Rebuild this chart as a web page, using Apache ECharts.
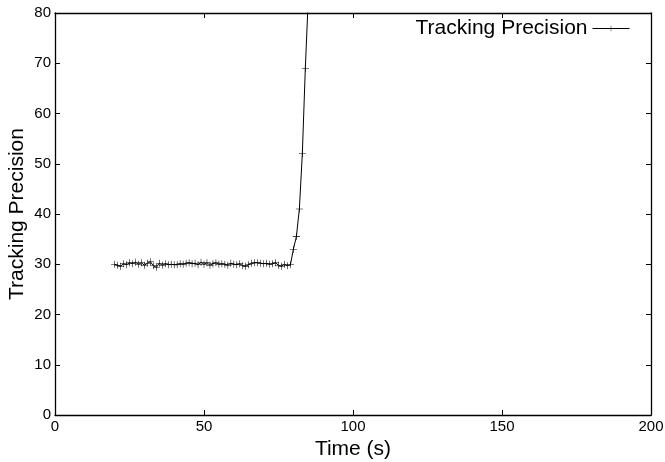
<!DOCTYPE html>
<html>
<head>
<meta charset="utf-8">
<script src="https://cdn.jsdelivr.net/npm/echarts@6/dist/echarts.min.js"></script>
<style>html,body{margin:0;padding:0;background:#fff}#c{width:665px;height:462px}</style>
</head>
<body>
<div id="c"></div>
<script>
var times = [20,21,22,23,24,25,26,27,28,29,30,31,32,33,34,35,36,37,38,39,
             40,41,42,43,44,45,46,47,48,49,50,51,52,53,54,55,56,57,58,59,
             60,61,62,63,64,65,66,67,68,69,70,71,72,73,74,75,76,77,78,79,
             80,81,82,83,84,85];
var precision = [30.0,29.8,29.6,30.1,29.9,30.3,30.1,30.4,30.0,30.3,29.8,30.2,30.5,29.7,29.4,30.2,29.8,30.1,29.9,30.0,
                 29.9,29.9,30.1,30.0,30.2,30.3,30.1,30.2,29.9,30.4,30.0,30.3,29.8,30.1,30.3,30.0,30.1,30.0,29.8,30.2,
                 30.0,29.9,30.1,29.7,29.6,29.9,30.2,30.3,30.3,30.2,30.1,30.2,30.0,30.1,30.3,29.8,29.6,30.0,29.7,29.9,
                 33.0,35.5,41.0,52.0,69.0,83.0];
var xTicks = [0,50,100,150,200];
var yTicks = [0,10,20,30,40,50,60,70,80];
var seriesName = 'Tracking Precision';

var FONT = '"Liberation Sans", Arial, sans-serif';
var plusSym = 'path://M0,4.6H10V5.4H0Z M4.6,0H5.4V10H4.6Z';
var data = times.map(function(t,i){return [t, precision[i]];});
var chart = echarts.init(document.getElementById('c'));
var tickCommon = {show:true, inside:true, length:5, lineStyle:{color:'#000', width:1}};
var lineCommon = {show:true, onZero:false, lineStyle:{color:'#000', width:1.3}};
chart.setOption({
  animation:false,
  backgroundColor:'#fff',
  grid:{left:55, right:14, top:13, bottom:47, containLabel:false, outerBoundsMode:'none'},
  legend:{
    show:true, right:30, top:13, align:'right', itemWidth:37, itemHeight:7, itemGap:7,
    lineStyle:{width:1},
    textStyle:{fontFamily:FONT, fontSize:21, color:'#000'},
    data:[seriesName]
  },
  xAxis:[
    {type:'value', min:xTicks[0], max:xTicks[xTicks.length-1], interval:50, position:'bottom',
     axisLine:lineCommon, axisTick:tickCommon, splitLine:{show:false},
     axisLabel:{color:'#000', fontFamily:FONT, fontSize:15, margin:4},
     name:'Time (s)', nameLocation:'middle', nameGap:22,
     nameTextStyle:{color:'#000', fontFamily:FONT, fontSize:21}},
    {type:'value', min:xTicks[0], max:xTicks[xTicks.length-1], interval:50, position:'top',
     axisLine:lineCommon, axisTick:tickCommon, splitLine:{show:false}, axisLabel:{show:false}}
  ],
  yAxis:[
    {type:'value', min:yTicks[0], max:yTicks[yTicks.length-1], interval:10, position:'left',
     axisLine:lineCommon, axisTick:tickCommon, splitLine:{show:false},
     axisLabel:{color:'#000', fontFamily:FONT, fontSize:15, margin:4},
     name:'Tracking Precision', nameLocation:'middle', nameGap:27, nameMoveOverlap:false,
     nameTextStyle:{color:'#000', fontFamily:FONT, fontSize:21}},
    {type:'value', min:yTicks[0], max:yTicks[yTicks.length-1], interval:10, position:'right',
     axisLine:lineCommon, axisTick:tickCommon, splitLine:{show:false}, axisLabel:{show:false}}
  ],
  series:[{
    name:seriesName, type:'line', data:data, xAxisIndex:0, yAxisIndex:0,
    symbol:plusSym, symbolSize:7, showAllSymbol:true, clip:true,
    lineStyle:{color:'#000', width:1},
    itemStyle:{color:'#000'}
  }]
});
</script>
</body>
</html>
